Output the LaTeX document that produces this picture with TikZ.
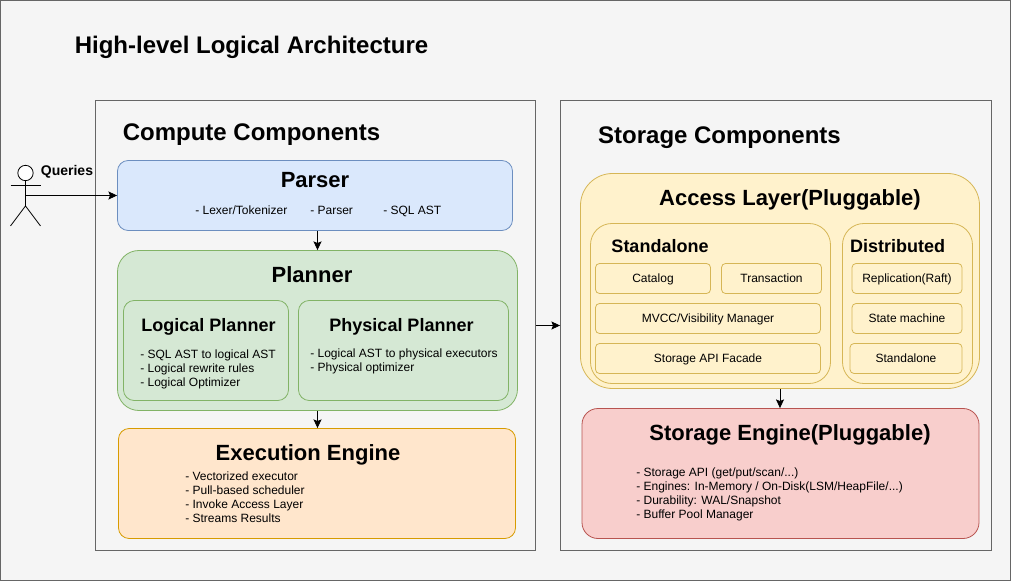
\documentclass[tikz,border=0pt]{standalone}
\usepackage{fontspec}
\setmainfont{Liberation Sans}
\usetikzlibrary{arrows.meta}
\definecolor{pagefill}{HTML}{F5F5F5}
\definecolor{pageline}{HTML}{666666}
\definecolor{bluefill}{HTML}{DAE8FC}
\definecolor{blueline}{HTML}{6C8EBF}
\definecolor{greenfill}{HTML}{D5E8D4}
\definecolor{greenline}{HTML}{82B366}
\definecolor{orangefill}{HTML}{FFE6CC}
\definecolor{orangeline}{HTML}{D79B00}
\definecolor{yellowfill}{HTML}{FFF2CC}
\definecolor{yellowline}{HTML}{D6B656}
\definecolor{redfill}{HTML}{F8CECC}
\definecolor{redline}{HTML}{B85450}
\tikzset{>={Stealth[length=6.5pt,width=6pt,inset=1.2pt]}}
\tikzset{
  box/.style n args={3}{draw=#1,fill=#2,line width=0.6pt,rounded corners=#3,
    inner sep=0pt,text=black},
  % width and height in px
  size/.style 2 args={minimum width=#1*0.75pt,minimum height=#2*0.75pt},
  panel/.style={draw=pageline,fill=pagefill,line width=0.6pt,inner sep=0pt},
  blue box/.style={box={blueline}{bluefill}{8pt}},
  green box/.style={box={greenline}{greenfill}{#1}},
  orange box/.style={box={orangeline}{orangefill}{8pt}},
  yellow box/.style={box={yellowline}{yellowfill}{#1}},
  red box/.style={box={redline}{redfill}{12pt}},
  cell/.style={yellow box=3pt,font=\fontsize{9}{10.5}\selectfont,text height=.72em,text depth=.1em},
  label/.style={inner sep=0pt,text=black,text height=.72em,text depth=.2em},
  heading/.style={label,font=\bfseries\fontsize{18}{21}\selectfont},
  title/.style={label,font=\bfseries\fontsize{16.5}{20}\selectfont},
  subtitle/.style={label,font=\bfseries\fontsize{13.5}{16}\selectfont},
  tag/.style={label,font=\fontsize{9}{10.5}\selectfont,anchor=west},
  note/.style={font=\fontsize{9}{10.5}\selectfont,align=left,inner sep=0pt,anchor=west},
  link/.style={->,black,line width=0.6pt}
}
\begin{document}
\begin{tikzpicture}[x=0.75pt,y=-0.75pt]
    \useasboundingbox (0,0) rectangle (1011,581);
    \node[panel,size={1010}{580}] (page) at (505.5,290.5) {};
    \node[heading] (pagetitle) at (251.5,50) {High-level Logical Architecture};

    % compute side
    \node[panel,size={440}{450},fill=none] (compute) at (315.5,325.5) {};
    \node[heading] (computetitle) at (251.5,137) {Compute Components};
    \node[blue box,size={395}{70}] (parser) at (315,195.5) {};
    \node[title] (parsertitle) at (315,184.5) {Parser};
    \node[tag] (parsernote1) at (195,211) {- Lexer/Tokenizer};
    \node[tag] (parsernote2) at (310,211) {- Parser};
    \node[tag] (parsernote3) at (383,211) {- SQL AST};
    \node[green box=16pt,size={400}{160}] (planner) at (317.5,330.5) {};
    \node[title] (plannertitle) at (312,279.5) {Planner};
    \node[green box=8pt,size={165}{100}] (logical) at (206,350.5) {};
    \node[subtitle] (logicaltitle) at (208.5,328.5) {Logical Planner};
    \node[note] (logicalnote) at (140,369) {- SQL AST to logical AST\\- Logical rewrite rules\\- Logical Optimizer};
    \node[green box=8pt,size={210}{100}] (physical) at (403.5,350.5) {};
    \node[subtitle] (physicaltitle) at (401.5,328.5) {Physical Planner};
    \node[note] (physicalnote) at (310,361.5) {- Logical AST to physical executors\\- Physical optimizer};
    \node[orange box,size={397}{110}] (execution) at (317,483.5) {};
    \node[title] (executiontitle) at (308,457.5) {Execution Engine};
    \node[note] (executionnote) at (185,497.5) {- Vectorized executor\\- Pull-based scheduler\\- Invoke Access Layer\\- Streams Results};

    % storage side
    \node[panel,size={431}{450},fill=none] (storage) at (776,325.5) {};
    \node[heading] (storagetitle) at (719.5,140) {Storage Components};
    \node[yellow box=24pt,size={399}{215}] (access) at (780,281) {};
    \node[title] (accesstitle) at (790,202.5) {Access Layer(Pluggable)};
    \node[yellow box=16pt,size={240}{160}] (standalone) at (710.5,303.5) {};
    \node[subtitle] (standalonetitle) at (660,249.5) {Standalone};
    \node[yellow box=16pt,size={130}{160}] (distributed) at (907.5,303.5) {};
    \node[subtitle] (distributedtitle) at (897.5,249.5) {Distributed};
    \node[cell,size={115}{30}] (catalog) at (653,278.5) {Catalog};
    \node[cell,size={100}{30}] (transaction) at (771.5,278.5) {Transaction};
    \node[cell,size={225}{30}] (mvcc) at (708,318.5) {MVCC/Visibility Manager};
    \node[cell,size={225}{30}] (facade) at (708,358.5) {Storage API Facade};
    \node[cell,size={110}{30}] (raft) at (907,278.5) {Replication(Raft)};
    \node[cell,size={110}{30}] (machine) at (907,318.5) {State machine};
    \node[cell,size={112}{30}] (single) at (906,358.5) {Standalone};
    \node[red box,size={397}{130}] (engine) at (780.5,473.5) {};
    \node[title] (enginetitle) at (790,437.5) {Storage Engine(Pluggable)};
    \node[note] (enginenote) at (636,494) {- Storage API (get/put/scan/...)\\- Engines: In-Memory / On-Disk(LSM/HeapFile/...)\\- Durability: WAL/Snapshot\\- Buffer Pool Manager};

    % actor
    \node[draw=black,fill=white,circle,minimum size=11.5pt,inner sep=0pt,line width=0.6pt] (head) at (25.5,173) {};
    \coordinate (hip) at (25.5,206);
    \coordinate (waist) at (25.5,195.5);
    \draw[black,line width=0.6pt] (head) -- (hip);
    \draw[black,line width=0.6pt] (10.5,185.5) -- (40.5,185.5);
    \draw[black,line width=0.6pt] (10.5,226) -- (hip) -- (40.5,226);
    \node[label,font=\bfseries\fontsize{10.5}{12}\selectfont] (queries) at (67,172) {Queries};

    % links
    \draw[link] (waist) -- (parser.west);
    \draw[link] (parser.south -| planner.north) -- (planner.north);
    \draw[link] (planner.south) -- (planner.south |- execution.north);
    \draw[link] (compute.east) -- (storage.west);
    \draw[link] (access.south) -- (access.south |- engine.north);
\end{tikzpicture}
\end{document}
